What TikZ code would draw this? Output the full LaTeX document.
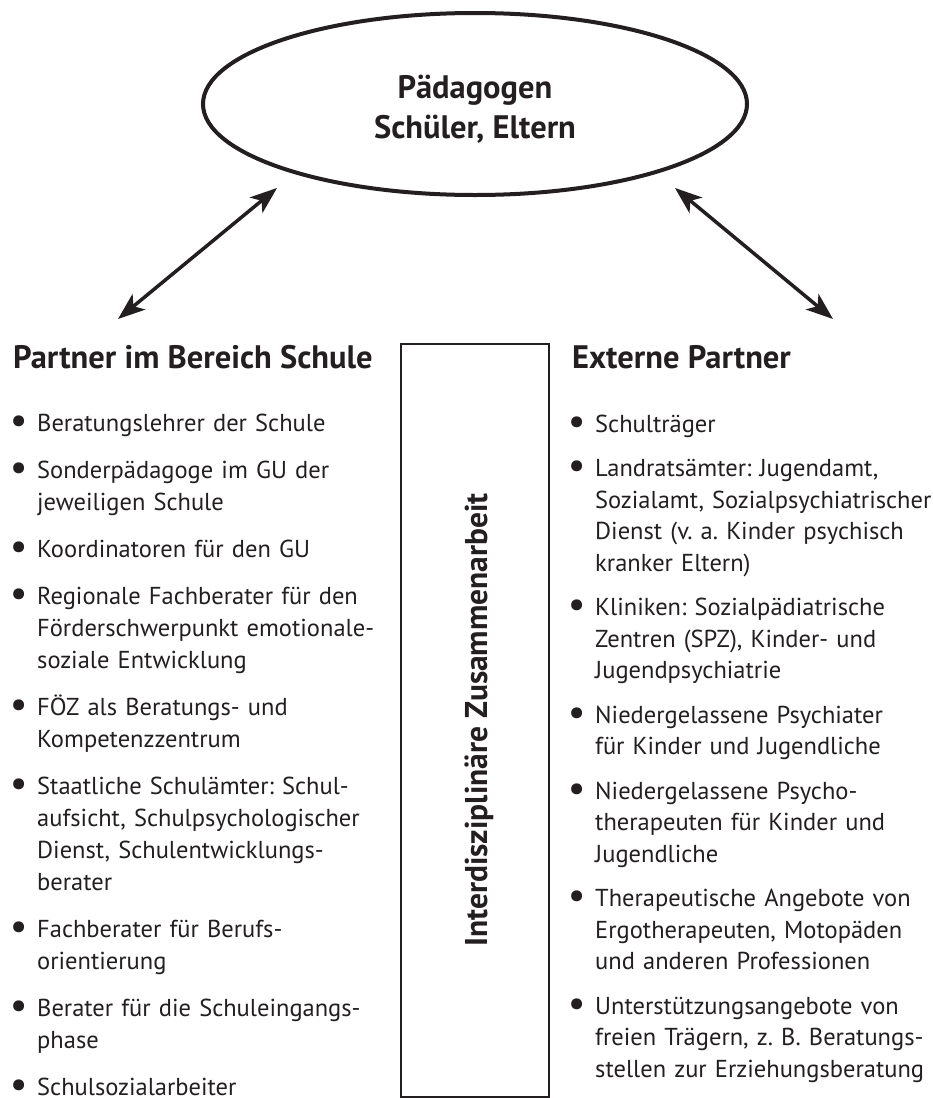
\documentclass[tikz,border=0pt]{standalone}
\usepackage{fontspec}
\setmainfont{PT Sans}
\usetikzlibrary{shapes.geometric,arrows.meta,positioning}
\definecolor{ink}{HTML}{231F20}
\frenchspacing
% Listenpunkt mit haengendem Einzug
\newcommand{\punkt}[1]{\hangindent=24pt\hangafter=1\noindent
  \hbox to 24pt{\hbox to 11pt{\hss\raisebox{-2.4pt}{\scalebox{1.6}{\textbullet}}\hss}\hss}#1\par}

\begin{document}
\begin{tikzpicture}[x=1pt,y=-1pt,
  every node/.style={text=ink,inner sep=0pt},
  titel/.style={font=\fontsize{32.5}{40}\selectfont\bfseries,anchor=base west},
  liste/.style={anchor=base west,text width=400pt},
  pfeil/.style={{Stealth[length=27pt,width=20pt,inset=7pt]}-{Stealth[length=27pt,width=20pt,inset=7pt]},line width=3.5pt,draw=ink}]
\path[use as bounding box,fill=white] (0,0) rectangle (932,1098);
\node[ellipse,draw=ink,line width=4pt,minimum width=544pt,minimum height=182pt,align=center,
  font=\fontsize{32.5}{40}\selectfont\bfseries] (kreis) at (475,104) {\rule{0pt}{33pt}Pädagogen\\Schüler, Eltern};
\node[titel] (links) at (13,368) {Partner im Bereich Schule};
\node[titel] (rechts) at (572,368) {Externe Partner};
\node[draw=ink,line width=2.5pt,minimum width=148pt,minimum height=753pt] (kasten) at (475,720.5) {};
\node[rotate=90,anchor=base,font=\fontsize{31.5}{36}\selectfont\bfseries] (iz) at (487,720) {Interdisziplinäre Zusammenarbeit};
\node[liste,font=\fontsize{24.5}{32}\selectfont] (ll) at (13,431) {\setlength{\parskip}{15pt}%
  \punkt{Beratungslehrer der Schule}
  \punkt{Sonderpädagoge im GU der\newline jeweiligen Schule}
  \punkt{Koordinatoren für den GU}
  \punkt{Regionale Fachberater für den\newline Förderschwerpunkt emotionale-\newline soziale Entwicklung}
  \punkt{FÖZ als Beratungs- und\newline Kompetenzzentrum}
  \punkt{Staatliche Schulämter: Schul-\newline aufsicht, Schulpsychologischer\newline Dienst, Schulentwicklungs-\newline berater}
  \punkt{Fachberater für Berufs-\newline orientierung}
  \punkt{Berater für die Schuleingangs-\newline phase}
  \punkt{Schulsozialarbeiter}};
\node[liste,font=\fontsize{24.5}{31.5}\selectfont] (lr) at (571,432) {\setlength{\parskip}{13pt}%
  \punkt{Schulträger}
  \punkt{Landratsämter: Jugendamt,\newline Sozialamt, Sozialpsychiatrischer\newline Dienst (v. a. Kinder psychisch\newline kranker Eltern)}
  \punkt{Kliniken: Sozialpädiatrische\newline Zentren (SPZ), Kinder- und\newline Jugendpsychiatrie}
  \punkt{Niedergelassene Psychiater\newline für Kinder und Jugendliche}
  \punkt{Niedergelassene Psycho-\newline therapeuten für Kinder und\newline Jugendliche}
  \punkt{Therapeutische Angebote von\newline Ergotherapeuten, Motopäden\newline und anderen Professionen}
  \punkt{Unterstützungsangebote von\newline freien Trägern, z. B. Beratungs-\newline stellen zur Erziehungsberatung}};
% Pfeile
\coordinate (lo) at (277,188);
\coordinate (lu) at (118,319);
\coordinate (ro) at (675,188);
\coordinate (ru) at (833,319);
\draw[pfeil] (lu) -- (lo);
\draw[pfeil] (ro) -- (ru);
\end{tikzpicture}
\end{document}
